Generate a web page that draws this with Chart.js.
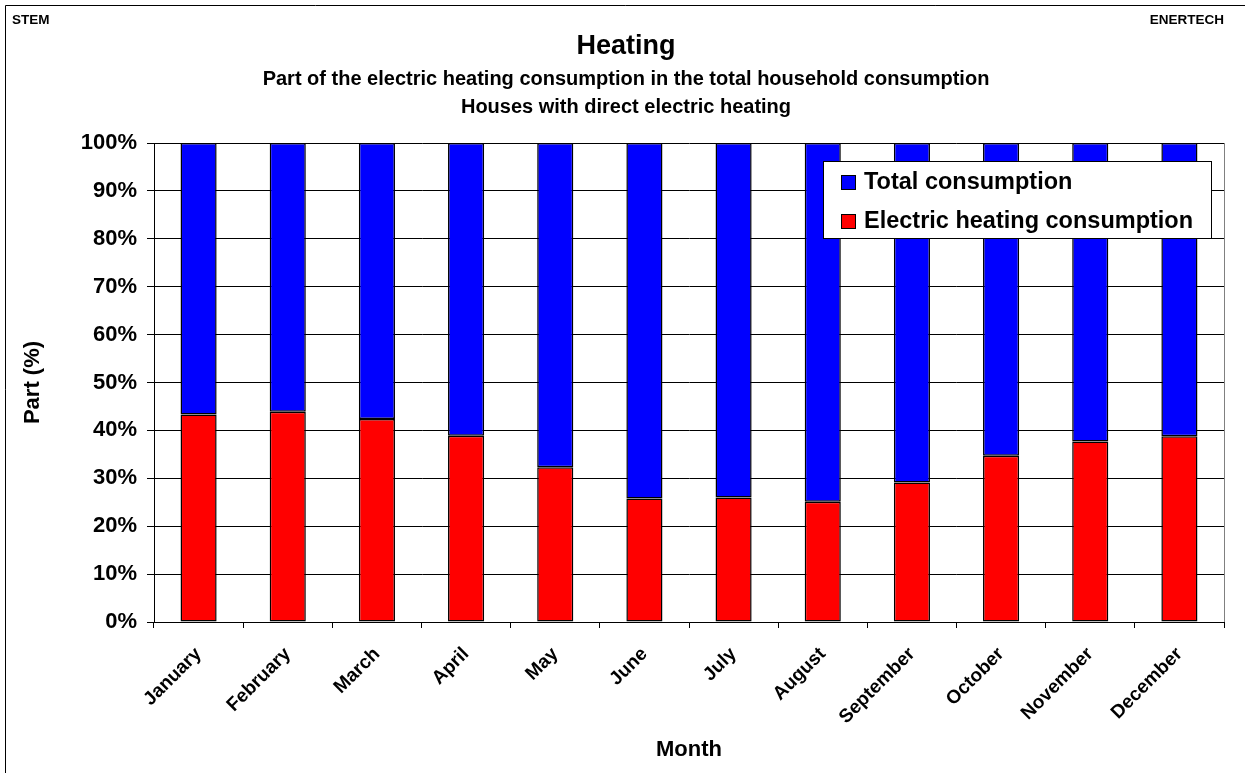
<!DOCTYPE html>
<html>
<head>
<meta charset="utf-8">
<title>Heating</title>
<script src="https://cdn.jsdelivr.net/npm/chart.js@4.4.1/dist/chart.umd.min.js"></script>
<style>
    html, body { margin: 0; padding: 0; background: #fff; }
    #wrap { width: 1245px; height: 773px; }
</style>
</head>
<body>
<div id="wrap"><canvas id="heating" width="1245" height="773"></canvas></div>
<script>
const months = ["January", "February", "March", "April", "May", "June",
    "July", "August", "September", "October", "November", "December"];
// share of the electric heating in the household consumption (%)
const heatingPart = [43.3, 43.9, 42.4, 38.9, 32.3, 25.8, 26.0, 25.1, 29.1, 34.7, 37.7, 38.8];
// remaining part, up to 100 %
const totalPart = [56.7, 56.1, 57.6, 61.1, 67.7, 74.2, 74.0, 74.9, 70.9, 65.3, 62.3, 61.2];
const subtitleLines = ["Part of the electric heating consumption in the total household consumption",
    "Houses with direct electric heating"];

const FONT = "'Liberation Sans', Arial, sans-serif";

// white page + the frame and the two corner labels
const pagePlugin = {
    id: 'page',
    beforeDraw(chart) {
        const ctx = chart.ctx;
        ctx.save();
        ctx.fillStyle = '#fff';
        ctx.fillRect(0, 0, chart.width, chart.height);
        ctx.restore();
    },
    afterDraw(chart) {
        const ctx = chart.ctx;
        const area = chart.chartArea;
        ctx.save();
        ctx.strokeStyle = '#000';
        ctx.lineWidth = 1;
        ctx.beginPath();
        ctx.moveTo(5.5, chart.height);
        ctx.lineTo(5.5, 5.5);
        ctx.lineTo(chart.width, 5.5);
        ctx.stroke();

        // right edge of the plot
        ctx.strokeStyle = '#808080';
        ctx.beginPath();
        ctx.moveTo(Math.round(area.right) + 0.5, area.top);
        ctx.lineTo(Math.round(area.right) + 0.5, area.bottom);
        ctx.stroke();

        ctx.fillStyle = '#000';
        ctx.font = 'bold 13.5px ' + FONT;
        ctx.textBaseline = 'alphabetic';
        ctx.textAlign = 'left';
        ctx.fillText('STEM', 12, 23.5);
        ctx.textAlign = 'right';
        ctx.fillText('ENERTECH', area.right, 23.5);
        ctx.restore();
    }
};

// legend box drawn inside the plot, top right
const boxLegend = {
    id: 'boxLegend',
    afterDraw(chart) {
        const ctx = chart.ctx;
        const area = chart.chartArea;
        const items = chart.data.datasets.slice().reverse();
        ctx.save();
        ctx.font = 'bold 23.5px ' + FONT;
        let textW = 0;
        items.forEach(ds => { textW = Math.max(textW, ctx.measureText(ds.label).width); });
        const w = 18 + 15 + 8 + textW + 18;
        const h = 77;
        const right = Math.round(area.right - 13);
        const left = right - Math.round(w);
        const top = Math.round(area.top + 18);

        ctx.fillStyle = '#fff';
        ctx.fillRect(left, top, right - left, h);
        ctx.strokeStyle = '#000';
        ctx.lineWidth = 1;
        ctx.strokeRect(left + 0.5, top + 0.5, right - left, h);

        items.forEach((ds, i) => {
            const cy = top + 21 + i * 39;
            ctx.fillStyle = ds.backgroundColor;
            ctx.fillRect(left + 18, cy - 7, 15, 15);
            ctx.strokeStyle = '#000';
            ctx.strokeRect(left + 18.5, cy - 6.5, 14, 14);
            ctx.fillStyle = '#000';
            ctx.textAlign = 'left';
            ctx.textBaseline = 'middle';
            ctx.fillText(ds.label, left + 41, cy + 1);
        });
        ctx.restore();
    }
};

function createHeatingChart() {
    const heatingCanvas = document.getElementById('heating');

    const heatingData = {
        labels: months,
        datasets: [{
            label: 'Electric heating consumption',
            data: heatingPart,
            backgroundColor: '#ff0000',
            borderColor: '#000',
            borderWidth: 1.5,
            borderSkipped: false
        }, {
            label: 'Total consumption',
            data: totalPart,
            backgroundColor: '#0000ff',
            borderColor: '#000',
            borderWidth: 1.5,
            borderSkipped: false
        }]
    };

    const heatingConfig = {
        type: 'bar',
        data: heatingData,
        options: {
            responsive: false,
            animation: false,
            categoryPercentage: 1,
            barPercentage: 0.405,
            layout: {
                padding: { left: 28, right: 21, top: 0, bottom: 0 }
            },
            plugins: {
                legend: { display: false },
                tooltip: { enabled: false },
                title: {
                    display: true,
                    text: 'Heating',
                    color: '#000',
                    font: { family: FONT, size: 27, weight: 'bold', lineHeight: 0.8 },
                    padding: { top: 35.9, bottom: 0 }
                },
                subtitle: {
                    display: true,
                    text: subtitleLines,
                    color: '#000',
                    font: { family: FONT, size: 20, weight: 'bold', lineHeight: 1.4 },
                    padding: { top: 7.6, bottom: 21.9 }
                }
            },
            scales: {
                x: {
                    stacked: true,
                    offset: true,
                    grid: {
                        drawOnChartArea: false,
                        drawTicks: true,
                        tickLength: 6,
                        color: '#000',
                        offset: true
                    },
                    border: { display: true, color: '#000', width: 1 },
                    ticks: {
                        autoSkip: false,
                        minRotation: 45,
                        maxRotation: 45,
                        padding: 15,
                        color: '#000',
                        font: { family: FONT, size: 19, weight: 'bold' }
                    },
                    title: {
                        display: true,
                        text: 'Month',
                        color: '#000',
                        font: { family: FONT, size: 22, weight: 'bold' },
                        padding: { top: 0, bottom: 9.4 }
                    },
                    afterFit: (scale) => { scale.height = 151; }
                },
                y: {
                    stacked: true,
                    min: 0,
                    max: 100,
                    grid: { color: '#000', lineWidth: 1, tickLength: 7 },
                    border: { display: true, color: '#000', width: 1 },
                    ticks: {
                        stepSize: 10,
                        padding: 10,
                        color: '#000',
                        font: { family: FONT, size: 22, weight: 'bold' },
                        callback: (v) => v + '%'
                    },
                    title: {
                        display: true,
                        text: 'Part (%)',
                        color: '#000',
                        font: { family: FONT, size: 22, weight: 'bold' },
                        padding: { top: -7.8, bottom: 0 }
                    },
                    afterFit: (scale) => { scale.width = 126; }
                }
            }
        },
        plugins: [pagePlugin, boxLegend]
    };

    const myChart = new Chart(heatingCanvas, heatingConfig);
    return myChart;
}

createHeatingChart();
</script>
</body>
</html>
